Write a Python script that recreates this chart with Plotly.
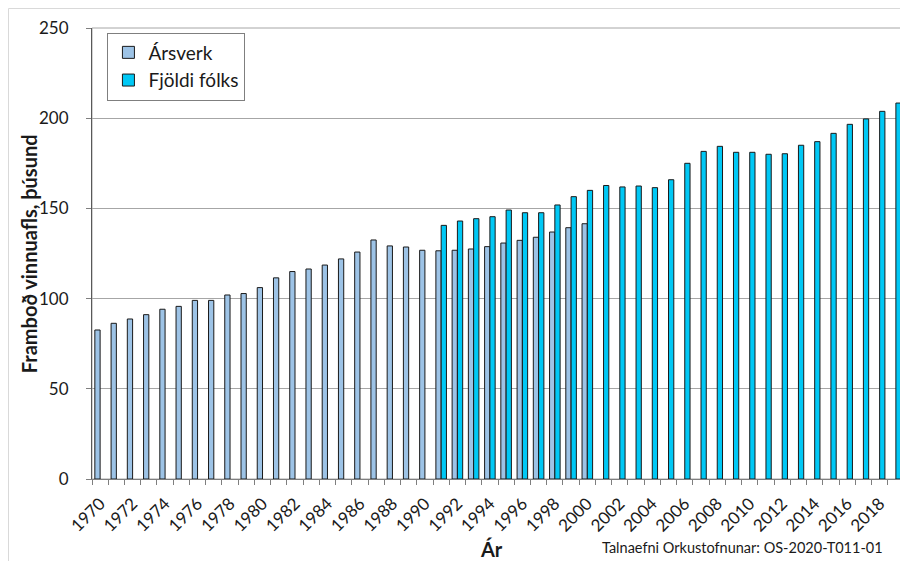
import plotly.graph_objects as go

# Framboð vinnuafls á Íslandi, þúsund
ar_arsverk = list(range(1970, 2001))
arsverk = [82.6, 86.3, 88.7, 91.1, 94.1, 95.7, 99.0, 99.0, 102.0, 102.8,
           106.1, 111.5, 115.0, 116.4, 118.6, 122.0, 125.8, 132.5, 129.2, 128.6,
           126.8, 126.5, 126.8, 127.5, 128.8, 130.8, 132.3, 134.0, 136.9, 139.3,
           141.5]

ar_fjoldi = list(range(1991, 2020))
fjoldi = [140.6, 143.0, 144.3, 145.4, 149.1, 147.6, 147.6, 151.9, 156.5, 160.0,
          162.7, 161.9, 162.4, 161.5, 165.9, 175.0, 181.6, 184.4, 181.1, 181.1,
          180.0, 180.3, 185.0, 187.0, 191.6, 196.6, 199.6, 203.8, 208.4]

tick_ar = list(range(1970, 2019, 2))
y_ticks = [0, 50, 100, 150, 200, 250]

fnt = "Lato, 'Open Sans', sans-serif"

fig = go.Figure()
fig.add_trace(go.Bar(x=ar_arsverk, y=arsverk, name="Ársverk",
                     marker=dict(color="#9DC3E6", line=dict(color="#1a1a1a", width=1))))
fig.add_trace(go.Bar(x=ar_fjoldi, y=fjoldi, name="Fjöldi fólks",
                     marker=dict(color="#00C8F5", line=dict(color="#1a1a1a", width=1))))

# síðan hefur 8px spássíu, myndin sjálf er 900x553
fig.update_layout(
    width=900, height=553,
    margin=dict(l=84, r=4, t=20, b=82, autoexpand=False),
    paper_bgcolor="white", plot_bgcolor="white",
    barmode="group", bargap=0.35, bargroupgap=0,
    font=dict(family=fnt, color="#1a1a1a"),
    showlegend=True,
    legend=dict(x=0.019, y=0.99, xanchor="left", yanchor="top",
                bordercolor="#7f7f7f", borderwidth=1, bgcolor="white",
                font=dict(size=19), tracegroupgap=4,
                entrywidth=146, entrywidthmode="pixels"),
    xaxis=dict(
        range=[1969.5, 2019.5], tickmode="array", tickvals=tick_ar,
        ticktext=[str(a) for a in tick_ar], tickangle=-45,
        tickfont=dict(size=17), ticks="", ticklabelstandoff=7,
        automargin=False,
        showline=True, linecolor="#7f7f7f", linewidth=1,
        showgrid=False, zeroline=False,
        minor=dict(tickmode="linear", tick0=1969.5, dtick=1, ticks="outside",
                   ticklen=5, tickcolor="#7f7f7f", showgrid=False),
    ),
    yaxis=dict(
        range=[0, 250], tickmode="array", tickvals=y_ticks,
        tickfont=dict(size=17), ticks="outside", ticklen=5, tickcolor="#7f7f7f",
        ticklabelstandoff=14, automargin=False,
        showline=True, linecolor="#595959", linewidth=1,
        showgrid=True, gridcolor="#a6a6a6", gridwidth=1, zeroline=False,
    ),
)

# ásaheiti
fig.add_annotation(text="<b>Ár</b>", xref="paper", yref="paper", x=0.4926, y=-0.156,
                   xanchor="center", yanchor="middle", showarrow=False,
                   font=dict(size=20))
fig.add_annotation(text="<b>Framboð vinnuafls, þúsund</b>", xref="paper",
                   yref="paper", x=-0.078, y=0.5, textangle=-90,
                   xanchor="center", yanchor="middle", showarrow=False,
                   font=dict(size=20))

# ramminn um teikniflötinn og myndina
fig.add_shape(type="rect", xref="paper", yref="paper", x0=0, x1=1, y0=0, y1=1,
              line=dict(color="#a6a6a6", width=1), layer="below")
fig.add_shape(type="rect", xref="paper", yref="paper", x0=-0.1028, x1=1.01,
              y0=-0.2, y1=1.0432, line=dict(color="#d9d9d9", width=1), layer="below")

fig.add_annotation(text="Talnaefni Orkustofnunar: OS-2020-T011-01",
                   xref="paper", yref="paper", x=0.977, y=-0.151,
                   xanchor="right", yanchor="middle", showarrow=False,
                   font=dict(size=14.5, color="#1a1a1a"))

fig.write_html("out.html")
